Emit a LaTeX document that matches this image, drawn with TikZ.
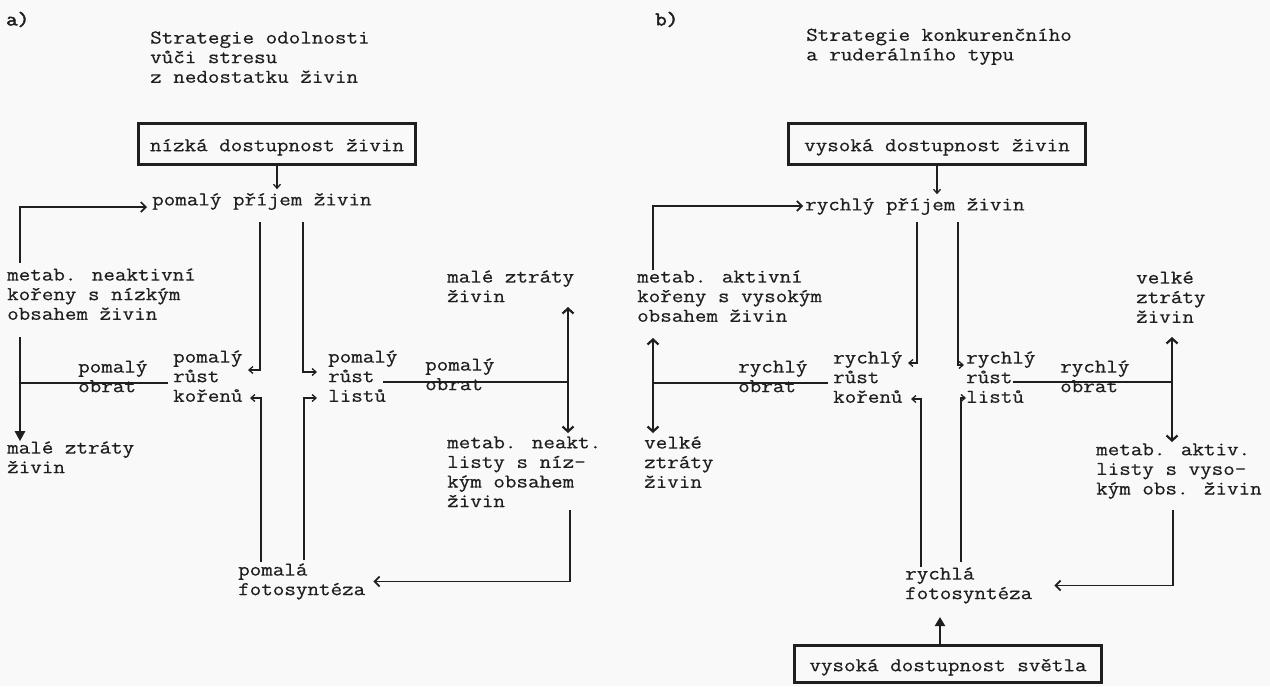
\documentclass[tikz,border=0pt]{standalone}
\usepackage{fontspec}
\newfontfamily\twfam{Latin Modern Mono}[FakeStretch=1.15,FakeBold=0.5]
\newfontfamily\twbfam{Latin Modern Mono}[FakeStretch=1.15,FakeBold=2.5]
\usetikzlibrary{arrows.meta}
\newcommand\twfont{\twfam\fontsize{19.5pt}{19.6pt}\selectfont}
\newcommand\twbfont{\twbfam\fontsize{19.5pt}{19.6pt}\selectfont}
\definecolor{ink}{gray}{0.12}
\definecolor{paper}{gray}{0.975}
\tikzset{
  lab/.style={anchor=north west, inner sep=0pt, align=left, text=ink, font=\twfont,
    yshift=11.8pt, execute at begin node={\rule{0pt}{16pt}}},
  boxnode/.style={draw=ink, line width=3.5pt, inner sep=0pt, text=ink, font=\twfont,
    text height=14.4pt, text depth=0pt},
  ln/.style={draw=ink, line width=1.7pt},
  thinln/.style={draw=ink, line width=1.3pt},
  arr/.style={ln, -{Straight Barb[length=5pt,width=10pt]}},
  hookarr/.style={thinln, -{Straight Barb[length=4pt,width=7pt]}},
  dblarr/.style={draw=ink, line width=2.2pt, {Straight Barb[length=5pt,width=11pt]}-{Straight Barb[length=5pt,width=11pt]}},
  bigarr/.style={draw=ink, line width=2.8pt, -{Triangle[length=10pt,width=10pt]}},
}
\begin{document}
\begin{tikzpicture}[x=1pt,y=-1pt]
\fill[paper] (0,0) rectangle (1270,686);
\useasboundingbox (0,0) rectangle (1270,686);

% ================= a) =================
\node[lab, font=\twbfont] (lblA) at (6,21) {a)};
\node[lab] (titleA) at (150,43) {Strategie odolnosti\\vůči stresu\\z nedostatku živin};
\node[boxnode, minimum width=277pt, minimum height=41pt] (boxA) at (277,144) {nízká dostupnost živin};
\node[lab] (prijemA) at (152,201) {pomalý příjem živin};
\node[lab] (metabKorA) at (7,280) {metab. neaktivní\\kořeny s nízkým\\obsahem živin};
\node[lab] (malZtrA) at (7,453) {malé ztráty\\živin};
\node[lab] (obratA1) at (78,372) {pomalý\\obrat};
\node[lab] (korA) at (173,362) {pomalý\\růst\\kořenů};
\node[lab] (listA) at (328,362) {pomalý\\růst\\listů};
\node[lab] (obratA2) at (425,370) {pomalý\\obrat};
\node[lab] (malZtrA2) at (447,282) {malé ztráty\\živin};
\node[lab] (metabListA) at (447,448) {metab. neakt.\\listy s níz-\\kým obsahem\\živin};
\node[lab] (fotoA) at (238,575) {pomalá\\fotosyntéza};

\coordinate (aFb) at (20,263);   \coordinate (aFbE) at (147,207);
\coordinate (aDn) at (20,337);
\coordinate (aObL) at (20,383);  \coordinate (aObLE) at (168,383);
\coordinate (aObR) at (383,382); \coordinate (aJ) at (568,382);
\coordinate (aUp) at (568,307);  \coordinate (aDw) at (568,433);
\coordinate (aH1) at (260,222);  \coordinate (aH1E) at (248,370);
\coordinate (aH2) at (303,222);  \coordinate (aH2E) at (317,372);
\coordinate (aH3) at (261,562);  \coordinate (aH3E) at (250,398);
\coordinate (aH4) at (304,560);  \coordinate (aH4E) at (317,398);
\coordinate (aBk) at (570,510);

\draw[hookarr] (boxA.south) -- (boxA.south |- prijemA.north);
\draw[arr] (aFb) |- (aFbE);
\draw[bigarr] (aDn) -- (aDn |- malZtrA.north);
\draw[ln] (aObL) -- (aObLE);
\draw[ln] (aObR) -- (aJ);
\draw[dblarr] (aUp) -- (aDw);
\draw[hookarr] (aH1) |- (aH1E);
\draw[hookarr] (aH2) |- (aH2E);
\draw[hookarr] (aH3) |- (aH3E);
\draw[hookarr] (aH4) |- (aH4E);
\draw[arr] (aBk) |- ([xshift=8pt]fotoA.east);

% ================= b) =================
\node[lab, font=\twbfont] (lblB) at (655,21) {b)};
\node[lab] (titleB) at (806,40) {Strategie konkurenčního\\a ruderálního typu};
\node[boxnode, minimum width=297pt, minimum height=41pt] (boxB) at (937,144) {vysoká dostupnost živin};
\node[lab] (prijemB) at (805,206) {rychlý příjem živin};
\node[lab] (metabKorB) at (637,282) {metab. aktivní\\kořeny s vysokým\\obsahem živin};
\node[lab] (velkeB1) at (644,448) {velké\\ztráty\\živin};
\node[lab] (obratB1) at (738,372) {rychlý\\obrat};
\node[lab] (korB) at (833,363) {rychlý\\růst\\kořenů};
\node[lab] (listB) at (966,363) {rychlý\\růst\\listů};
\node[lab] (obratB2) at (1060,372) {rychlý\\obrat};
\node[lab] (velkeB2) at (1136,283) {velké\\ztráty\\živin};
\node[lab] (metabListB) at (1096,455) {metab. aktiv.\\listy s vyso-\\kým obs. živin};
\node[lab] (fotoB) at (905,579) {rychlá\\fotosyntéza};
\node[boxnode, minimum width=307pt, minimum height=37pt] (boxB2) at (948,664) {vysoká dostupnost světla};

\coordinate (bFb) at (653,270);   \coordinate (bFbE) at (803,206);
\coordinate (bUp) at (653,338);   \coordinate (bDw) at (653,433);
\coordinate (bObL) at (653,383);  \coordinate (bObLE) at (828,383);
\coordinate (bObR) at (1013,382); \coordinate (bJ) at (1172,382);
\coordinate (bUp2) at (1172,337); \coordinate (bDw2) at (1172,442);
\coordinate (bH1) at (917,222);   \coordinate (bH1E) at (908,363);
\coordinate (bH2) at (958,222);   \coordinate (bH2E) at (964,365);
\coordinate (bH3) at (921,567);   \coordinate (bH3E) at (911,399);
\coordinate (bH4) at (961,562);   \coordinate (bH4E) at (966,398);
\coordinate (bBk) at (1173,510);
\coordinate (bLt) at (940,617);

\draw[hookarr] (boxB.south) -- (boxB.south |- prijemB.north);
\draw[arr] (bFb) |- (bFbE);
\draw[dblarr] (bUp) -- (bDw);
\draw[ln] (bObL) -- (bObLE);
\draw[ln] (bObR) -- (bJ);
\draw[dblarr] (bUp2) -- (bDw2);
\draw[hookarr] (bH1) |- (bH1E);
\draw[hookarr] (bH2) |- (bH2E);
\draw[hookarr] (bH3) |- (bH3E);
\draw[hookarr] (bH4) |- (bH4E);
\draw[arr] (bBk) |- ([xshift=22pt]fotoB.east);
\draw[draw=ink, line width=2.4pt, -{Triangle[length=9pt,width=10pt]}] (boxB2.north -| bLt) -- (bLt);
\end{tikzpicture}
\end{document}
